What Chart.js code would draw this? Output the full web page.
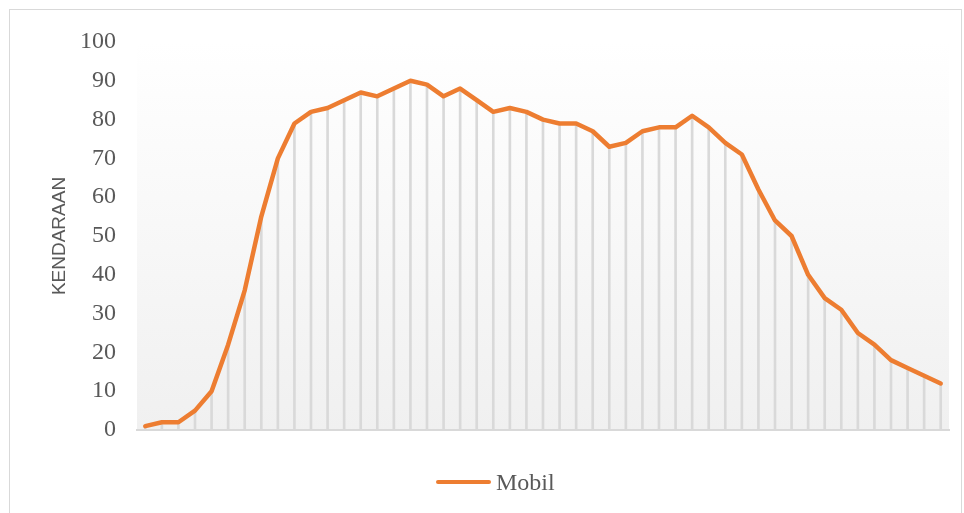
<!DOCTYPE html>
<html lang="id">
<head>
<meta charset="UTF-8">
<title>Grafik Kendaraan Mobil</title>
<script src="https://cdn.jsdelivr.net/npm/chart.js"></script>
<style>
    html, body { margin: 0; padding: 0; background: #ffffff; }
    .bingkai { position: absolute; left: 9px; top: 9px; width: 953px; height: 510px; border: 1px solid #d9d9d9; box-sizing: border-box; }
    .grafik { position: absolute; left: 0; top: 0; width: 964px; height: 513px; }
    .legenda { position: absolute; left: 436px; top: 468px; height: 28px; display: flex; align-items: center;
        font-family: 'Liberation Serif', serif; font-size: 24px; color: #595959; }
    .legenda .garis { display: inline-block; width: 55px; height: 4.5px; border-radius: 3px; background: #ED7D31; margin-right: 5px; }
</style>
</head>
<body>

<div class="bingkai"></div>
<div class="grafik">
    <canvas id="grafik_mobil"></canvas>
</div>
<div class="legenda"><span class="garis"></span><span>Mobil</span></div>

<script>
    // interval pengamatan (sumbu x tidak diberi label)
    const interval = ['1', '2', '3', '4', '5', '6', '7', '8', '9', '10',
        '11', '12', '13', '14', '15', '16', '17', '18', '19', '20',
        '21', '22', '23', '24', '25', '26', '27', '28', '29', '30',
        '31', '32', '33', '34', '35', '36', '37', '38', '39', '40',
        '41', '42', '43', '44', '45', '46', '47', '48', '49'];

    // jumlah kendaraan mobil
    const mobil = [1, 2, 2, 5, 10, 22, 36, 55, 70, 79,
        82, 83, 85, 87, 86, 88, 90, 89, 86, 88,
        85, 82, 83, 82, 80, 79, 79, 77, 73, 74,
        77, 78, 78, 81, 78, 74, 71, 62, 54, 50,
        40, 34, 31, 25, 22, 18, 16, 14, 12];

    const tickY = [0, 10, 20, 30, 40, 50, 60, 70, 80, 90, 100];

    // latar area plot bergradasi seperti pada gambar
    const latarGradasi = {
        id: 'latarGradasi',
        beforeDraw(chart) {
            const ctx = chart.ctx;
            const a = chart.chartArea;
            const g = ctx.createLinearGradient(0, a.top, 0, a.bottom);
            g.addColorStop(0, '#ffffff');
            g.addColorStop(1, '#f0f0f0');
            ctx.save();
            ctx.fillStyle = g;
            ctx.fillRect(a.left, a.top, a.right - a.left, a.bottom - a.top);
            ctx.restore();
        }
    };

    var ctx = document.getElementById('grafik_mobil').getContext('2d');
    var grafik = new Chart(ctx, {
        type: 'line',
        data: {
            labels: interval,
            datasets: [{
                label: 'Mobil',
                data: mobil,
                borderColor: '#ED7D31',
                backgroundColor: '#ED7D31',
                borderWidth: 4.5,
                borderCapStyle: 'round',
                borderJoinStyle: 'round',
                pointRadius: 0,
                tension: 0,
                order: 0
            }, {
                // garis jatuh (drop lines) dari tiap titik ke sumbu
                type: 'bar',
                label: 'garis jatuh',
                data: mobil,
                backgroundColor: '#d9d9d9',
                barThickness: 2,
                order: 1
            }]
        },
        options: {
            responsive: true,
            maintainAspectRatio: false,
            animation: false,
            layout: {
                padding: { left: 10, right: 15, top: 42, bottom: 81 }
            },
            plugins: {
                legend: { display: false },
                tooltip: { enabled: false }
            },
            scales: {
                x: {
                    offset: true,
                    grid: { display: false },
                    border: { display: true, color: '#d9d9d9', width: 2 },
                    ticks: { display: false },
                    afterFit: function (scale) { scale.height = 2; }
                },
                y: {
                    min: 0,
                    max: 100,
                    grid: { display: false },
                    border: { display: false },
                    afterBuildTicks: function (scale) {
                        scale.ticks = tickY.map(v => ({ value: v }));
                    },
                    ticks: {
                        padding: 13,
                        color: '#595959',
                        font: { family: 'Liberation Serif', size: 24 }
                    },
                    title: {
                        display: true,
                        text: 'KENDARAAN',
                        color: '#595959',
                        font: { family: 'Liberation Sans', size: 19 },
                        padding: { top: 38, bottom: 0 }
                    },
                    afterFit: function (scale) { scale.width = 127; }
                }
            }
        },
        plugins: [latarGradasi]
    });
</script>

</body>
</html>
